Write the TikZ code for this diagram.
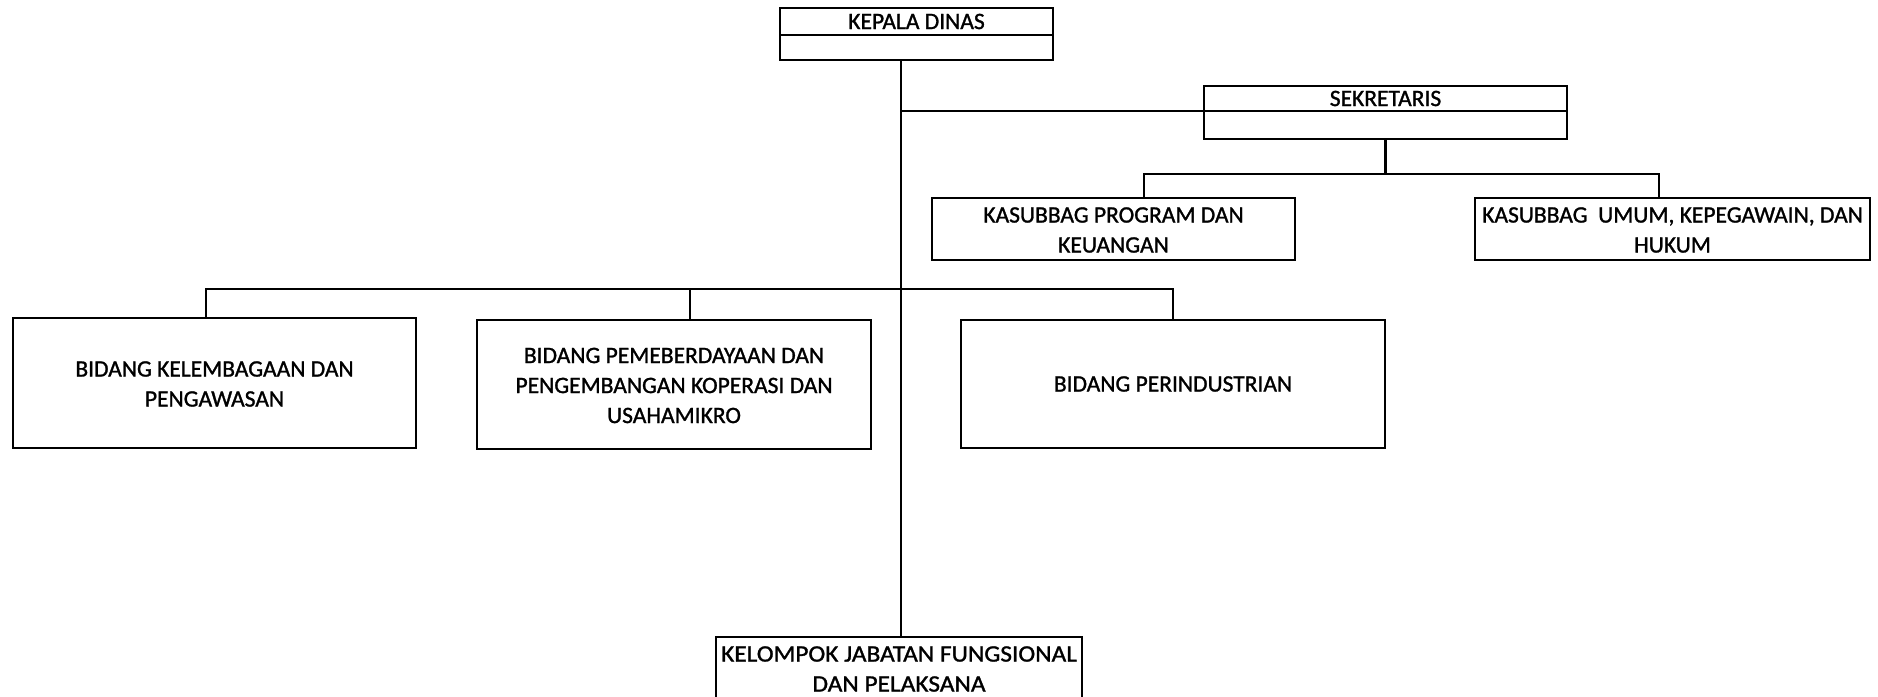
\documentclass[tikz,border=0pt]{standalone}
\usepackage{fontspec}
\setmainfont{Carlito}
\newfontfamily\lblfont{Carlito}[FakeBold=1.2]
\begin{document}
\begin{tikzpicture}[x=1pt,y=-1pt,
  box/.style={draw=black,line width=2.6pt,rectangle,inner sep=0pt,outer sep=0pt,fill=white},
  lbl/.style={font=\lblfont\fontsize{23.5}{30}\selectfont,align=center,inner sep=0pt},
  conn/.style={draw=black,line width=2.8pt}]
\useasboundingbox[fill=white] (0,0) rectangle (1878,696);
\coordinate (trunk) at (901,0);
\coordinate (jp) at (1144,174);
\coordinate (ju) at (1659,174);
\coordinate (b1) at (206,289);
\coordinate (b2) at (690,289);
\coordinate (b3) at (1173,289);
% boxes
\node[box,minimum width=273pt,minimum height=27pt] (kepala) at (916.5,21.5) {};
\node[box,minimum width=273pt,minimum height=25pt] (kepalab) at (916.5,47.5) {};
\node[lbl] at (kepala.center) {KEPALA DINAS};
\node[box,minimum width=363pt,minimum height=25pt] (sek) at (1385.5,98.5) {};
\node[box,minimum width=363pt,minimum height=28pt] (sekb) at (1385.5,125) {};
\node[lbl] at (sek.center) {SEKRETARIS};
\node[box,minimum width=363pt,minimum height=62pt] (prog) at (1113.5,229) {};
\node[lbl] at ([yshift=-1pt]prog.center) {KASUBBAG PROGRAM DAN\\KEUANGAN};
\node[box,minimum width=395pt,minimum height=62pt] (umum) at (1672.5,229) {};
\node[lbl] at ([yshift=-1pt]umum.center) {KASUBBAG\ \ UMUM, KEPEGAWAIN, DAN\\HUKUM};
\node[box,minimum width=403pt,minimum height=130pt] (bid1) at (214.5,383) {};
\node[lbl] at ([yshift=-1pt]bid1.center) {BIDANG KELEMBAGAAN DAN\\PENGAWASAN};
\node[box,minimum width=394pt,minimum height=129pt] (bid2) at (674,384.5) {};
\node[lbl] at ([yshift=-1pt]bid2.center) {BIDANG PEMEBERDAYAAN DAN\\PENGEMBANGAN KOPERASI DAN\\USAHAMIKRO};
\node[box,minimum width=424pt,minimum height=128pt] (bid3) at (1173,384) {};
\node[lbl] at (bid3.center) {BIDANG PERINDUSTRIAN};
\node[box,minimum width=366pt,minimum height=62pt] (kel) at (899,668) {};
\node[lbl,transform shape,xscale=1.08] at ([yshift=-1pt]kel.center) {KELOMPOK JABATAN FUNGSIONAL\\DAN PELAKSANA};
% connectors
\draw[conn] (kepalab.south -| trunk) -- (kel.north -| trunk);
\draw[conn] (sek.south west) -- (sek.south west -| trunk);
\draw[conn] (sekb.south) -- (sekb.south |- jp);
\draw[conn] (prog.north -| jp) -- (jp) -- (ju) -- (umum.north -| ju);
\draw[conn] (bid1.north -| b1) -- (b1) -- (b3) -- (bid3.north -| b3);
\draw[conn] (b2) -- (bid2.north -| b2);
\end{tikzpicture}
\end{document}
